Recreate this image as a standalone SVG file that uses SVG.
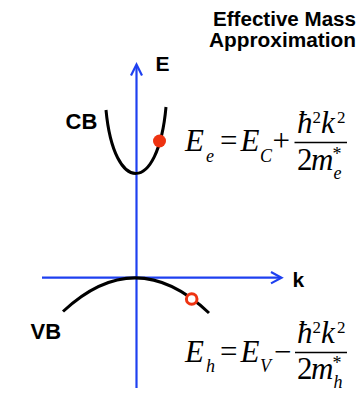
<svg xmlns="http://www.w3.org/2000/svg" width="362" height="394" viewBox="0 0 362 394">
<style>
.lbl{font-family:"Liberation Sans",Arial,sans-serif;font-weight:bold;fill:#000}
.m{font-family:"Liberation Serif","Times New Roman",serif;fill:#000}
.it{font-style:italic}
.axis{stroke:#1e40f0;stroke-width:2.2;fill:none}
.curve{stroke:#000;stroke-width:3;fill:none;stroke-linecap:butt}
</style>
<rect width="362" height="394" fill="#fff"/>
<g id="title">
<text class="lbl" font-size="19.5" text-anchor="end"><tspan x="356" y="25.5" textLength="143" lengthAdjust="spacingAndGlyphs">Effective Mass</tspan><tspan x="356" y="47" textLength="147" lengthAdjust="spacingAndGlyphs">Approximation</tspan></text>
</g>
<g id="connectors">
<line class="axis" x1="136.5" y1="388" x2="136.5" y2="65"/>
<polyline class="axis" stroke-width="2.6" points="131,75.5 136.5,64.5 142,75.5"/>
<line class="axis" x1="42" y1="277.7" x2="281" y2="277.7"/>
<polyline class="axis" stroke-width="2.6" points="271,272 281.5,277.7 271,283.4"/>
</g>
<g id="axis-labels">
<text class="lbl" font-size="21" x="155.5" y="70.7">E</text>
<text class="lbl" font-size="21" x="292.5" y="287">k</text>
</g>
<g id="CB">
<path class="curve" d="M106,110 C114,195 158,195 166,107"/>
<text class="lbl" font-size="22" x="65.5" y="129.3">CB</text>
<circle cx="159.5" cy="141" r="6.5" fill="#ee3311"/>
</g>
<g id="VB">
<path class="curve" d="M63,311.5 Q136,243.5 209,313"/>
<text class="lbl" font-size="22" x="30.5" y="339.3">VB</text>
<circle cx="191.7" cy="299" r="5.3" fill="#fff" stroke="#ee3311" stroke-width="3"/>
</g>
<g id="eq-electron">
<text class="m it" font-size="31" x="185" y="151">E</text>
<text class="m it" font-size="18" x="206" y="162">e</text>
<text class="m" font-size="31" x="220" y="151">=</text>
<text class="m it" font-size="31" x="240.5" y="151">E</text>
<text class="m it" font-size="18" x="260" y="162">C</text>
<text class="m" font-size="31" x="272.5" y="151">+</text>
<line x1="294.5" y1="142.5" x2="347" y2="142.5" stroke="#000" stroke-width="1.5"/>
<text class="m it" font-size="31" x="297" y="132.5">ħ</text>
<text class="m" font-size="17" x="312.5" y="122.5">2</text>
<text class="m it" font-size="31" x="321" y="132.5">k</text>
<text class="m" font-size="17" x="337" y="122.5">2</text>
<text class="m" font-size="31" x="297" y="170">2</text>
<text class="m it" font-size="31" x="311" y="170">m</text>
<text class="m" font-size="18" x="332.5" y="160">*</text>
<text class="m it" font-size="18" x="333.5" y="178.5">e</text>
</g>
<g id="eq-hole">
<text class="m it" font-size="31" x="185" y="361.5">E</text>
<text class="m it" font-size="18" x="206" y="372">h</text>
<text class="m" font-size="31" x="220" y="361.5">=</text>
<text class="m it" font-size="31" x="240.5" y="361.5">E</text>
<text class="m it" font-size="18" x="260" y="372">V</text>
<text class="m" font-size="31" x="274" y="361.5">−</text>
<line x1="295" y1="352.5" x2="347" y2="352.5" stroke="#000" stroke-width="1.5"/>
<text class="m it" font-size="31" x="297" y="342.5">ħ</text>
<text class="m" font-size="17" x="312.5" y="332.5">2</text>
<text class="m it" font-size="31" x="321" y="342.5">k</text>
<text class="m" font-size="17" x="337" y="332.5">2</text>
<text class="m" font-size="31" x="297" y="379">2</text>
<text class="m it" font-size="31" x="311" y="379">m</text>
<text class="m" font-size="18" x="332.5" y="369">*</text>
<text class="m it" font-size="18" x="333.5" y="388">h</text>
</g>
</svg>
